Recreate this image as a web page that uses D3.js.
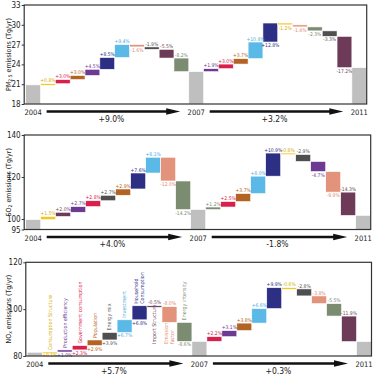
<!DOCTYPE html>
<html>
<head>
<meta charset="utf-8">
<script src="https://cdn.jsdelivr.net/npm/d3@7"></script>
<style>
  body { margin: 0; background: #fff; }
  svg { display: block; }
  text { font-family: "DejaVu Sans Condensed", "Liberation Sans Narrow", "DejaVu Sans", sans-serif; }
</style>
</head>
<body>
<svg id="chart" width="375" height="375"></svg>
<script>
// driving factors, their bar colours and label colours
const factorKeys = ["cs", "pe", "gc", "pop", "em", "inv", "hh", "is", "ef", "ei"];
const factorNames = ["Consumption Structure", "Production efficiency", "Government consumption",
  "Population", "Energy mix", "Investment", "Household\nConsumption", "Import Structure",
  "Emission\nfactor", "Energy intensity"];
const factorColors = ["#f2c71e", "#6c3a93", "#d9204c", "#b36424", "#4f4f4f", "#5ab9e6",
  "#2d2f85", "#6d3b57", "#e3937c", "#7b8c70"];
const factorTextColors = ["#d6aa00", "#6c3a93", "#d9204c", "#b36424", "#555555", "#4aaee0",
  "#2d2f85", "#6d4a5d", "#e08a72", "#7b8c70"];

const years = ["2004", "2007", "2011"];

// PM2.5 (Tg/yr)
const pmBase = 20.9;
const pmFactors1 = ["cs", "gc", "pop", "pe", "hh", "inv", "ef", "em", "is", "ei"];
const pmDelta1 = [0.17, 0.63, 0.62, 0.94, 1.78, 1.96, -0.35, -0.37, -1.32, -2.06];
const pmPct1 = ["+0.8%", "+3.0%", "+3.0%", "+4.5%", "+8.5%", "+9.4%", "-1.6%", "-1.9%", "-5.5%", "-8.2%"];
const pmFactors2 = ["pe", "gc", "pop", "inv", "hh", "cs", "ef", "ei", "em", "is"];
const pmDelta2 = [0.45, 0.70, 0.82, 2.52, 2.88, -0.28, -0.31, -0.60, -0.83, -4.75];
const pmPct2 = ["+1.9%", "+3.0%", "+3.7%", "+10.9%", "+12.8%", "-1.2%", "-1.4%", "-2.3%", "-3.3%", "-17.2%"];
const pmChange = ["+9.0%", "+3.2%"];
const pmTicks = [18, 21, 24, 27, 30, 33];

// SO2 (Tg/yr)
const so2Base = 99.7;
const so2Factors1 = ["cs", "is", "pe", "gc", "em", "pop", "hh", "inv", "ef", "ei"];
const so2Delta1 = [1.5, 2.0, 2.7, 2.8, 2.6, 3.0, 7.6, 7.5, -11.3, -13.6];
const so2Pct1 = ["+1.5%", "+2.0%", "+2.7%", "+2.8%", "+2.7%", "+2.9%", "+7.6%", "+8.1%", "-12.0%", "-14.2%"];
const so2Factors2 = ["ei", "gc", "pop", "inv", "hh", "cs", "em", "pe", "ef", "is"];
const so2Delta2 = [1.2, 2.6, 3.8, 8.3, 11.0, -0.7, -3.3, -4.8, -9.8, -11.1];
const so2Pct2 = ["+1.2%", "+2.5%", "+3.7%", "+8.0%", "+10.9%", "-0.8%", "-2.9%", "-4.7%", "-9.9%", "-14.3%"];
const so2Change = ["+4.0%", "-1.8%"];
const so2Ticks = [95, 100, 120, 140];

// NOx (Tg/yr)
const noxBase = 81.6;
const noxFactors1 = ["cs", "pe", "gc", "pop", "em", "inv", "hh", "is", "ef", "ei"];
const noxDelta1 = [0.1, 0.9, 1.85, 2.4, 3.2, 5.4, 6.0, -0.4, -6.7, -8.1];
const noxPct1 = ["+0.1%", "+1.0%", "+2.3%", "+2.9%", "+3.9%", "+6.7%", "+6.8%", "-0.5%", "-8.0%", "-8.6%"];
const noxFactors2 = ["gc", "pe", "pop", "inv", "hh", "cs", "em", "ef", "ei", "is"];
const noxDelta2 = [2.0, 2.6, 3.2, 6.2, 8.9, -0.5, -3.0, -3.3, -5.3, -10.9];
const noxPct2 = ["+2.2%", "+3.1%", "+3.8%", "+6.6%", "+9.9%", "-0.6%", "-2.8%", "-3.8%", "-5.5%", "-11.9%"];
const noxChange = ["+5.7%", "+0.3%"];
const noxTicks = [80, 100, 120];

// layout of the three panels
const panels = [
  {
    title: ["PM", "2.5", " emissions (Tg/yr)"], base: pmBase, domain: [18, 33], ticks: pmTicks,
    periods: [[pmFactors1, pmDelta1, pmPct1], [pmFactors2, pmDelta2, pmPct2]], change: pmChange,
    top: 5, bottom: 104, x0: 25.7, x1: 366.7,
    sides: ["ttttttbttt", "ttttbbbbbb"], names: false
  },
  {
    title: ["SO", "2", " emissions (Tg/yr)"], base: so2Base, domain: [95, 140], ticks: so2Ticks,
    periods: [[so2Factors1, so2Delta1, so2Pct1], [so2Factors2, so2Delta2, so2Pct2]], change: so2Change,
    top: 135, bottom: 229.5, x0: 25.7, x1: 370.7,
    sides: ["ttttttttbb", "tttttttbbt"], names: false
  },
  {
    title: ["NO", "x", " emissions (Tg/yr)"], base: noxBase, domain: [80, 120], ticks: noxTicks,
    periods: [[noxFactors1, noxDelta1, noxPct1], [noxFactors2, noxDelta2, noxPct2]], change: noxChange,
    top: 262.3, bottom: 356, x0: 27.3, x1: 371.5,
    sides: ["bbbbbbbttb", "tttttttttt"], names: true
  }
];

const svg = d3.select("#chart");

panels.forEach(p => {
  const g = svg.append("g");

  // waterfall bars
  const bars = [];
  let level = p.base;
  bars.push({ total: true, v0: p.domain[0], v1: level, year: years[0] });
  p.periods.forEach(([keys, deltas, pcts], k) => {
    keys.forEach((key, i) => {
      const fi = factorKeys.indexOf(key);
      bars.push({ fi, v0: level, v1: level + deltas[i], pct: pcts[i], side: p.sides[k][i], name: p.names && k === 0 });
      level += deltas[i];
    });
    bars.push({ total: true, v0: p.domain[0], v1: level, year: years[k + 1] });
  });

  const x = d3.scaleBand().domain(d3.range(bars.length)).range([p.x0, p.x1]).padding(0);
  const y = d3.scaleLinear().domain(p.domain).range([p.bottom, p.top]);
  const cx = i => x(i) + x.bandwidth() / 2;

  g.selectAll("rect.bar")
    .data(bars)
    .join("rect")
    .attr("class", "bar")
    .attr("x", (d, i) => x(i))
    .attr("width", x.bandwidth())
    .attr("y", d => y(Math.max(d.v0, d.v1)))
    .attr("height", d => Math.max(1.6, Math.abs(y(d.v0) - y(d.v1))))
    .attr("fill", d => d.total ? "#bfbfbf" : factorColors[d.fi])
    .attr("stroke", "#fff")
    .attr("stroke-width", 0.6);

  // percentage labels
  const fb = bars.map((d, i) => ({ ...d, i })).filter(d => !d.total);
  g.selectAll("text.pct")
    .data(fb)
    .join("text")
    .attr("class", "pct")
    .attr("x", d => cx(d.i))
    .attr("y", d => d.side === "t" ? y(Math.max(d.v0, d.v1)) - 1.3 : y(Math.min(d.v0, d.v1)) + 5)
    .attr("text-anchor", "middle")
    .attr("font-size", 5)
    .attr("fill", d => factorTextColors[d.fi])
    .text(d => d.pct);

  // rotated factor names (NOx panel, first period)
  fb.filter(d => d.name).forEach(d => {
    const lines = factorNames[d.fi].split("\n");
    const above = d.side === "b";
    const yy = above ? y(Math.max(d.v0, d.v1)) - 2 : p.bottom - 12;
    lines.forEach((line, j) => {
      const xx = cx(d.i) + (j - (lines.length - 1) / 2) * 6;
      g.append("text")
        .attr("transform", `translate(${xx},${yy}) rotate(-90)`)
        .attr("dy", "0.35em")
        .attr("text-anchor", "start")
        .attr("font-size", 5.3)
        .attr("fill", factorTextColors[d.fi])
        .text(line);
    });
  });

  // y axis
  const ax = g.append("g")
    .attr("transform", `translate(${p.x0 - 1.5},0)`)
    .call(d3.axisLeft(y).tickValues(p.ticks).tickSize(2.5).tickPadding(1).tickSizeOuter(0));
  ax.select(".domain").remove();
  ax.selectAll(".tick line").attr("stroke", "#333");
  ax.selectAll(".tick text").attr("font-size", 8).attr("fill", "#222")
    .style("font-family", "\"DejaVu Sans Condensed\", \"Liberation Sans Narrow\", \"DejaVu Sans\", sans-serif");

  // frame
  g.append("rect")
    .attr("x", p.x0 - 1.5)
    .attr("y", p.top)
    .attr("width", p.x1 - p.x0 + 1.5)
    .attr("height", p.bottom - p.top)
    .attr("fill", "none")
    .attr("stroke", "#333")
    .attr("stroke-width", 1.2);

  // axis title
  const t = g.append("text")
    .attr("transform", `translate(10.5,${(p.top + p.bottom) / 2}) rotate(-90)`)
    .attr("text-anchor", "middle")
    .attr("font-size", 7)
    .attr("fill", "#222");
  t.append("tspan").text(p.title[0]);
  t.append("tspan").attr("font-size", 5).attr("dy", 1.5).text(p.title[1]);
  t.append("tspan").attr("dy", -1.5).text(p.title[2]);

  // years, arrows and period changes
  const yearIdx = bars.map((d, i) => d.total ? i : -1).filter(i => i >= 0);
  yearIdx.forEach(i => {
    g.append("text")
      .attr("x", cx(i))
      .attr("y", p.bottom + 11)
      .attr("text-anchor", "middle")
      .attr("font-size", 7.5)
      .attr("fill", "#222")
      .text(bars[i].year);
  });
  const ay = p.bottom + 7.5;
  for (let k = 0; k < 2; k++) {
    const xs = cx(yearIdx[k]) + 13.5;
    const xe = cx(yearIdx[k + 1]) - 16;
    g.append("line")
      .attr("x1", xs).attr("x2", xe - 10)
      .attr("y1", ay).attr("y2", ay)
      .attr("stroke", "#111")
      .attr("stroke-width", 2.4);
    g.append("path")
      .attr("d", `M${xe - 14},${ay - 3.2}L${xe},${ay}L${xe - 14},${ay + 3.2}Z`)
      .attr("fill", "#111");
    g.append("text")
      .attr("x", (xs + xe) / 2 - 2)
      .attr("y", p.bottom + 17.5)
      .attr("text-anchor", "middle")
      .attr("font-size", 8.5)
      .attr("fill", "#222")
      .text(p.change[k]);
  }
});
</script>
</body>
</html>
